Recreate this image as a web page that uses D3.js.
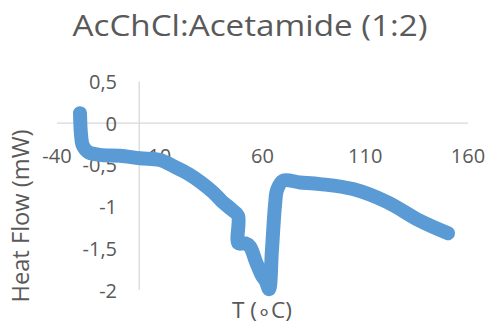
<!DOCTYPE html>
<html>
<head>
<meta charset="utf-8">
<script src="https://cdn.jsdelivr.net/npm/d3@7"></script>
<style>
  body { margin: 0; background: #fff; }
  text { font-family: "Open Sans", "Noto Sans", sans-serif; fill: #595959; }
</style>
</head>
<body>
<div id="chart"></div>
<script>
// temperature (°C) and heat flow (mW)
const temps = [-28.8, -28.3, -27.4, -24.9, -19.1, -9.3, 0.4, 10.1, 17.0, 24.0, 30.0, 36.0, 40.0, 45.2, 48.1,
               48.3, 51.5, 53.9, 56.8, 59.8, 61.7, 63.2, 64.6, 66.1, 67.1, 70.0, 78.2, 88.0,
               104.0, 120.6, 136.6, 150.3]
const heatFlow = [0.12, -0.14, -0.27, -0.345, -0.38, -0.39, -0.42, -0.44, -0.52, -0.61, -0.71, -0.83, -0.93, -1.04, -1.11,
                  -1.44, -1.44, -1.48, -1.66, -1.83, -1.9, -1.99, -1.52, -0.98, -0.8, -0.69, -0.71, -0.73,
                  -0.79, -0.945, -1.17, -1.32]

const xTicks = [-40, 10, 60, 110, 160]
const yTicks = [0.5, 0, -0.5, -1, -1.5, -2]

const data = temps.map((t, i) => ({ t: t, q: heatFlow[i] }))

const width = 489, height = 324

const xScale = d3.scaleLinear().domain([-40, 160]).range([57, 468])
const yScale = d3.scaleLinear().domain([-2, 0.5]).range([290, 81.5])

const svg = d3.select('#chart').append('svg')
  .attr('width', width)
  .attr('height', height)

// axis lines crossing at zero
svg.append('line')
  .attr('x1', xScale(-40)).attr('x2', xScale(160))
  .attr('y1', yScale(0)).attr('y2', yScale(0))
  .style('stroke', '#d9d9d9').style('stroke-width', 1.3)
svg.append('line')
  .attr('x1', xScale(0)).attr('x2', xScale(0))
  .attr('y1', yScale(0.5)).attr('y2', yScale(-2))
  .style('stroke', '#d9d9d9').style('stroke-width', 1.3)

const fmt = d => String(d).replace('.', ',')

svg.append('g').classed('x-labels', true)
  .selectAll('text')
  .data(xTicks).enter()
  .append('text')
  .attr('x', d => xScale(d))
  .attr('y', 163)
  .attr('text-anchor', 'middle')
  .style('font-size', '20px')
  .text(d => d)

svg.append('g').classed('y-labels', true)
  .selectAll('text')
  .data(yTicks).enter()
  .append('text')
  .attr('x', 117)
  .attr('y', d => yScale(d) + 7.5)
  .attr('text-anchor', 'end')
  .style('font-size', '20px')
  .text(fmt)

const line = d3.line()
  .x(d => xScale(d.t))
  .y(d => yScale(d.q))
  .curve(d3.curveCatmullRom.alpha(0.5))

svg.append('path')
  .datum(data)
  .attr('d', line)
  .style('fill', 'none')
  .style('stroke', '#5b9bd5')
  .style('stroke-width', 14)
  .style('stroke-linecap', 'round')
  .style('stroke-linejoin', 'round')

svg.append('text')
  .attr('x', 250)
  .attr('y', 36)
  .attr('text-anchor', 'middle')
  .attr('textLength', 355)
  .attr('lengthAdjust', 'spacingAndGlyphs')
  .style('font-size', '29px')
  .text('AcChCl:Acetamide (1:2)')

svg.append('text')
  .attr('transform', 'translate(29, 216) rotate(-90)')
  .attr('text-anchor', 'middle')
  .attr('textLength', 173)
  .attr('lengthAdjust', 'spacingAndGlyphs')
  .style('font-size', '24px')
  .text('Heat Flow (mW)')

svg.append('text')
  .attr('x', 262)
  .attr('y', 318)
  .attr('text-anchor', 'middle')
  .attr('textLength', 60)
  .attr('lengthAdjust', 'spacingAndGlyphs')
  .style('font-size', '21px')
  .text('T (∘C)')
</script>
</body>
</html>
